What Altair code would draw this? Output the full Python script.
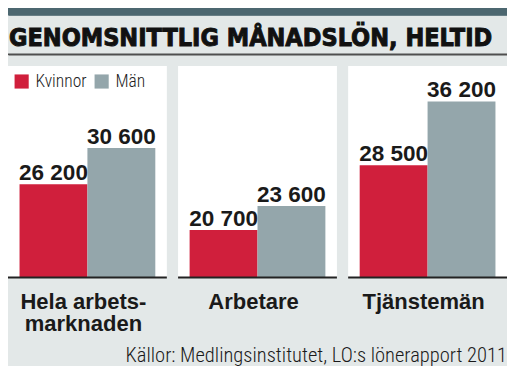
import altair as alt
import pandas as pd

# ---- data ----
categories = ["Hela arbetsmarknaden", "Arbetare", "Tjänstemän"]
category_labels = ["Hela arbets-\nmarknaden", "Arbetare", "Tjänstemän"]
series = ["Kvinnor", "Män"]
kvinnor = [26200, 20700, 28500]
man = [30600, 23600, 36200]
title_text = "GENOMSNITTLIG MÅNADSLÖN, HELTID"
source_text = "Källor: Medlingsinstitutet, LO:s lönerapport 2011"

# ---- styling / layout ----
W, H = 499, 358
def X(xr):
    return (xr - 2) * W / 510
def Y(yr):
    return (yr - 3) * H / 367

RED = "#d01f3c"
GRAY = "#94a6ab"
BG = "#e3e8e8"
DARK = "#4c6770"
NARROW = "Roboto Condensed, Noto Sans Condensed, Liberation Sans Narrow, DejaVu Sans Condensed, sans-serif"
BOLD = "Liberation Sans, Arial, sans-serif"

rows = []
for c, k, m in zip(categories, kvinnor, man):
    rows.append({"cat": c, "sex": "Kvinnor", "value": k})
    rows.append({"cat": c, "sex": "Män", "value": m})
df = pd.DataFrame(rows)
df["label"] = df["value"].map(lambda v: f"{v:,}".replace(",", " "))
cat_df = pd.DataFrame({"cat": categories, "label": category_labels})
one = pd.DataFrame({"a": [0]})

xscale = alt.Scale(domain=categories, paddingInner=0.066, paddingOuter=0)
xoff = alt.XOffset("sex:N", scale=alt.Scale(domain=series, paddingInner=0, paddingOuter=0.17))

def xenc(axis=None):
    return alt.X("cat:N", scale=xscale, axis=axis, sort=categories)

def strip_axis(y_center, width, color):
    # an axis used only for its domain line: a full-width horizontal strip
    return alt.Axis(orient="top", offset=-y_center, domainColor=color,
                    domainWidth=width, domainCap="butt", labels=False, ticks=False,
                    title=None, grid=False)

kpx = 0.0085 * H / 367
base = Y(279)
yscale = alt.Scale(domain=[15000, 40000], range=[base, base - 25000 * kpx], zero=False)
yenc = alt.Y("value:Q", scale=yscale, axis=None)

title = alt.Chart(one).mark_text(
    text=title_text, font="DejaVu Sans Condensed, sans-serif", fontWeight="bold",
    fontSize=25, align="left", baseline="alphabetic", color="#111",
    stroke="#111", strokeWidth=0.9
).encode(x=alt.value(X(3)), y=alt.value(Y(42)))

panels = alt.Chart(cat_df).mark_bar(color="white").encode(
    x=xenc(strip_axis((Y(3) + Y(10.5)) / 2, Y(10.5) - Y(3), DARK)),
    y=alt.value(Y(62.5)), y2=alt.value(Y(279)))

bars = alt.Chart(df).mark_bar().encode(
    x=xenc(), xOffset=xoff, y=yenc, y2=alt.datum(15000),
    color=alt.Color("sex:N", scale=alt.Scale(domain=series, range=[RED, GRAY]),
                    legend=alt.Legend(orient="none", legendX=X(7), legendY=Y(69),
                                      direction="horizontal", title=None,
                                      symbolType="square", symbolSize=200,
                                      symbolStrokeWidth=0, symbolOpacity=1,
                                      labelFont=NARROW, labelFontSize=17.5,
                                      labelFontWeight=300,
                                      labelColor="#222", labelOffset=5,
                                      columnPadding=6)))

baseline = alt.Chart(cat_df).mark_bar(color="#222").encode(
    x=xenc(strip_axis(Y(50.5), 1.5, "#4f4f4f")),
    y=alt.value(Y(278.3)), y2=alt.value(Y(280.3)))

values = alt.Chart(df).mark_text(
    font=BOLD, fontWeight="bold", fontSize=22.5, baseline="alphabetic", dy=-4,
    color="#1a1a1a"
).encode(x=xenc(), xOffset=xoff, y=yenc, text="label:N")

cat_labels = alt.Chart(cat_df).mark_text(
    font=BOLD, fontWeight="bold", fontSize=22, baseline="alphabetic",
    lineBreak="\n", lineHeight=22, color="#1a1a1a", dx=-4
).encode(x=xenc(), y=alt.value(Y(311.5)), text="label:N")

source = alt.Chart(one).mark_text(
    text=source_text, font=NARROW, fontSize=20.5, fontWeight=300, align="right",
    baseline="alphabetic", color="#1a1a1a"
).encode(x=alt.value(X(512)), y=alt.value(Y(366)))

top_rule = alt.Chart(one).mark_rule(color=DARK, strokeWidth=Y(10.5) - Y(3)).encode(
    x=alt.value(0), x2=alt.value(W), y=alt.value((Y(3) + Y(10.5)) / 2))

under_rule = alt.Chart(one).mark_rule(color="#4f4f4f", strokeWidth=1.5).encode(
    x=alt.value(0), x2=alt.value(W), y=alt.value(Y(50.5)))

chart = alt.layer(
    title, panels, bars, baseline, values, cat_labels, source, top_rule, under_rule
).resolve_axis(x="independent").properties(
    width=W, height=H, autosize=alt.AutoSizeParams(type="none"), padding=0
).configure(background=BG).configure_view(stroke=None)

chart.save("out.html", embed_options={"renderer": "svg", "actions": False})
